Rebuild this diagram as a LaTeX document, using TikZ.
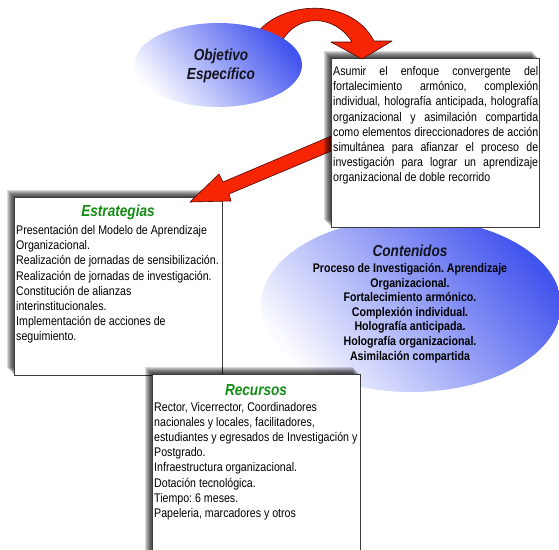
\documentclass[tikz,border=0pt]{standalone}
\usepackage{fontspec}
\setmainfont{Liberation Sans}[FakeStretch=0.85]
\usetikzlibrary{shapes.geometric}
\definecolor{ellblue}{RGB}{66,84,238}
\definecolor{ellwhite}{RGB}{250,250,255}
\definecolor{arrred}{RGB}{246,38,4}
\definecolor{arredge}{RGB}{80,0,0}
\definecolor{ttlgreen}{RGB}{20,140,20}
\definecolor{boxedge}{RGB}{60,60,60}
\definecolor{elltext}{RGB}{20,20,30}
\frenchspacing
\tikzset{
  boxnode/.style={draw=boxedge, line width=0.8pt, fill=white, rectangle, inner sep=0pt, anchor=north west},
  shd/.style={fill=black, opacity=0.15},
  redarrow/.style={fill=arrred, draw=arredge, line width=0.6pt, line join=round},
  ellnode/.style={ellipse, inner sep=0pt, top color=ellblue, bottom color=ellwhite, shading angle=-50},
  bodytext/.style={inner sep=0pt, anchor=base west, font=\fontsize{12.5}{15.2}\selectfont},
  ttl/.style={inner sep=0pt, anchor=base, font=\fontsize{16}{19}\selectfont\bfseries\itshape},
  greenttl/.style={ttl, text=ttlgreen},
  ellttl/.style={ttl, text=elltext}
}
\begin{document}
\frenchspacing
\begin{tikzpicture}[x=1pt,y=-1pt]
\useasboundingbox (0,0) rectangle (559,549);
% Contenidos ellipse
\node[ellnode, minimum width=300pt, minimum height=174pt] (contell) at (411,305) {};
% Estrategias box
\foreach \k in {1,...,7} \fill[shd] (14-\k,197-\k) rectangle (222-\k,375-\k);
\node[boxnode, minimum width=208pt, minimum height=178pt] (estr) at (14,197) {};
% straight arrow
\filldraw[redarrow] (336,134) -- (223,182) -- (219,174) -- (190,202) -- (231,201) -- (229,194) -- (336,149) -- cycle;
% Objective box
\foreach \k in {1,...,7} \fill[shd] (331-\k,58-\k) rectangle (539-\k,227-\k);
\node[boxnode, minimum width=208pt, minimum height=169pt] (obj) at (331,58) {};
% curved arrow
\filldraw[redarrow] (252,40) .. controls (275,0) and (350,-5) .. (374,41) -- (392,41) -- (362,59) -- (331,42) -- (352,42) .. controls (335,14) and (295,12) .. (280,45) -- cycle;
% Objetivo ellipse
\node[ellnode, minimum width=168pt, minimum height=84pt] (objell) at (218,65) {};
% Recursos box
\foreach \k in {1,...,7} \fill[shd] (152-\k,374-\k) rectangle (360-\k,560-\k);
\node[boxnode, minimum width=208pt, minimum height=186pt] (rec) at (152,374) {};
% texts
\node[ellttl] (objt1) at (221,60) {Objetivo};
\node[ellttl] (objt2) at (221,79) {Específico};
\node[bodytext] (objtxt) at (333,75.5) {\parbox[t]{205pt}{\fontsize{12.5}{15.2}\selectfont
\makebox[205pt][s]{Asumir el enfoque convergente del}\\
\makebox[205pt][s]{fortalecimiento armónico, complexión}\\
\makebox[205pt][s]{individual, holografía anticipada, holografía}\\
\makebox[205pt][s]{organizacional y asimilación compartida}\\
\makebox[205pt][s]{como elementos direccionadores de acción}\\
\makebox[205pt][s]{simultánea para afianzar el proceso de}\\
\makebox[205pt][s]{investigación para lograr un aprendizaje}\\
organizacional de doble recorrido}};
\node[greenttl] (estrt) at (118,216.5) {Estrategias};
\node[bodytext] (estrtxt) at (16,234.5) {\parbox[t]{205pt}{\raggedright\fontsize{12.5}{15.2}\selectfont
Presentación del Modelo de Aprendizaje\\
Organizacional.\\
Realización de jornadas de sensibilización.\\
Realización de jornadas de investigación.\\
Constitución de alianzas\\
interinstitucionales.\\
Implementación de acciones de\\
seguimiento.}};
\node[ellttl] (contt) at (410,256.5) {Contenidos};
\node[inner sep=0pt, anchor=base] (conttxt) at (410,272.5) {\parbox[t]{240pt}{\centering\bfseries\fontsize{12.5}{14.6}\selectfont
Proceso de Investigación. Aprendizaje\\
Organizacional.\\
Fortalecimiento armónico.\\
Complexión individual.\\
Holografía anticipada.\\
Holografía organizacional.\\
Asimilación compartida}};
\node[greenttl] (rect) at (256,395) {Recursos};
\node[bodytext] (rectxt) at (154,411) {\parbox[t]{205pt}{\raggedright\fontsize{12.5}{15.2}\selectfont
Rector, Vicerrector, Coordinadores\\
nacionales y locales, facilitadores,\\
estudiantes y egresados de Investigación y\\
Postgrado.\\
Infraestructura organizacional.\\
Dotación tecnológica.\\
Tiempo: 6 meses.\\
Papeleria, marcadores y otros}};
\end{tikzpicture}
\end{document}
